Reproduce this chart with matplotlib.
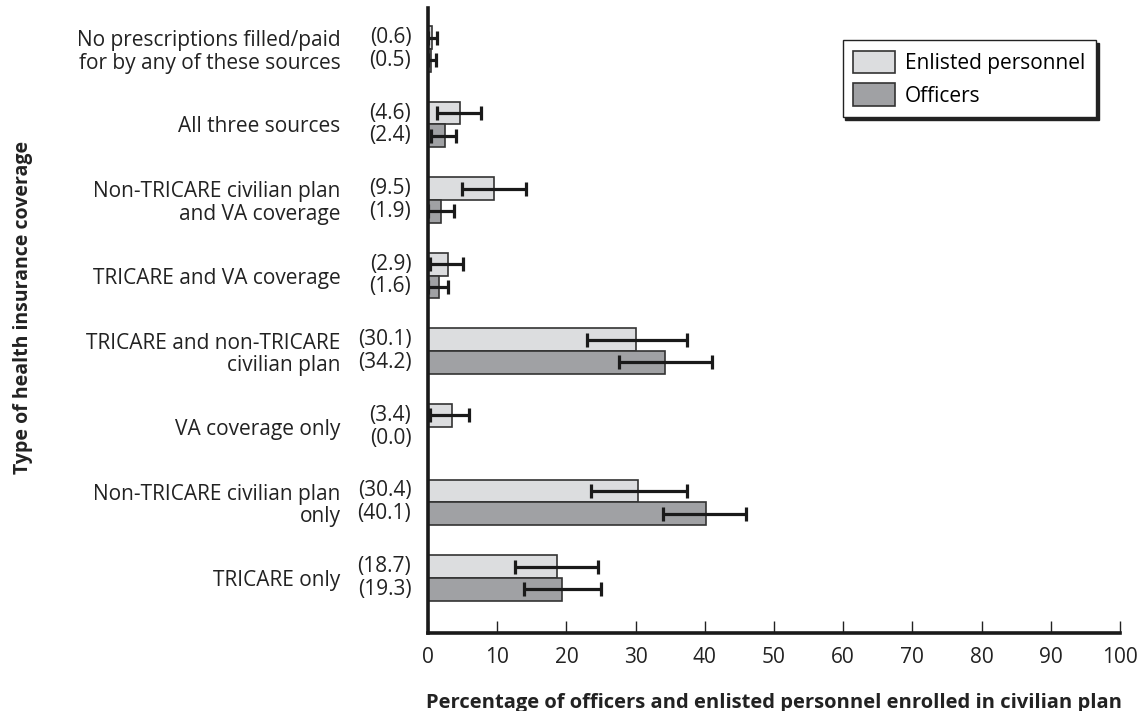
import numpy as np
import matplotlib
matplotlib.use("Agg")
from matplotlib import pyplot as plt

plt.rcParams['font.family'] = ['Open Sans', 'DejaVu Sans']

# categories, top to bottom
categories = [
    'No prescriptions filled/paid\nfor by any of these sources',
    'All three sources',
    'Non-TRICARE civilian plan\nand VA coverage',
    'TRICARE and VA coverage',
    'TRICARE and non-TRICARE\ncivilian plan',
    'VA coverage only',
    'Non-TRICARE civilian plan\nonly',
    'TRICARE only',
]
enlisted = [0.6, 4.6, 9.5, 2.9, 30.1, 3.4, 30.4, 18.7]
officers = [0.5, 2.4, 1.9, 1.6, 34.2, 0.0, 40.1, 19.3]
# confidence interval bounds
enlisted_lo = [0.0, 1.3, 4.9, 0.3, 23.0, 0.3, 23.6, 12.6]
enlisted_hi = [1.3, 7.7, 14.1, 5.1, 37.4, 5.9, 37.4, 24.6]
officers_lo = [0.0, 0.4, 0.0, 0.0, 27.6, 0.0, 34.0, 13.8]
officers_hi = [1.1, 4.0, 3.7, 2.9, 41.0, 0.0, 46.0, 25.0]

light = '#dcdddf'
dark = '#a0a1a4'
edge = '#333333'
txt = '#222222'
fs = 15

fig = plt.figure(figsize=(11.46, 7.11), dpi=100)
ax = fig.add_axes([0.3735, 0.1097, 0.6038, 0.879])

n = len(categories)
y = np.arange(n)[::-1].astype(float)
h = 0.30

en = np.array(enlisted)
of = np.array(officers)
en_err = [en - np.array(enlisted_lo), np.array(enlisted_hi) - en]
of_err = [of - np.array(officers_lo), np.array(officers_hi) - of]

ax.barh(y + h / 2, en, height=h, color=light, edgecolor=edge, linewidth=1.2,
        label='Enlisted personnel', zorder=2)
ax.barh(y - h / 2, of, height=h, color=dark, edgecolor=edge, linewidth=1.2,
        label='Officers', zorder=2)
ax.errorbar(en, y + h / 2, xerr=en_err, fmt='none', ecolor='#1a1a1a',
            elinewidth=2.3, capsize=5, capthick=2.3, zorder=3)
mask = of > 0
ax.errorbar(of[mask], (y - h / 2)[mask], xerr=[e[mask] for e in of_err], fmt='none',
            ecolor='#1a1a1a', elinewidth=2.3, capsize=5, capthick=2.3, zorder=3)

# value labels next to the axis
for yi, e, o in zip(y, enlisted, officers):
    ax.annotate('(%.1f)' % e, xy=(0, yi + h / 2), xycoords=('axes fraction', 'data'),
                xytext=(-12, 0), textcoords='offset points', ha='right', va='center',
                fontsize=fs, color=txt)
    ax.annotate('(%.1f)' % o, xy=(0, yi - h / 2), xycoords=('axes fraction', 'data'),
                xytext=(-12, 0), textcoords='offset points', ha='right', va='center',
                fontsize=fs, color=txt)

ax.set_yticks(y)
ax.set_yticklabels(categories, fontsize=fs, color=txt, linespacing=1.1)
ax.tick_params(axis='y', length=0, pad=63)

ax.set_xlim(0, 100)
ax.set_ylim(-0.73, n - 1 + 0.54)
ax.set_xticks(np.arange(0, 101, 10))
ax.tick_params(axis='x', direction='in', length=9, width=1, labelsize=fs,
               pad=10, colors=txt)

for s in ['top', 'right']:
    ax.spines[s].set_visible(False)
for s in ['left', 'bottom']:
    ax.spines[s].set_linewidth(2.6)
    ax.spines[s].set_color('#1a1a1a')

ax.set_xlabel('Percentage of officers and enlisted personnel enrolled in civilian plan',
              fontsize=14.5, fontweight='bold', labelpad=18, color=txt)
fig.text(0.02, 0.568, 'Type of health insurance coverage', rotation=90,
         ha='center', va='center', fontsize=14, fontweight='bold', color=txt)

leg = ax.legend(loc='upper right', bbox_to_anchor=(0.98, 0.965), fontsize=fs,
                frameon=True, fancybox=False, edgecolor=txt,
                shadow={'color': txt, 'alpha': 1.0},
                handlelength=2.0, handleheight=1.3, borderpad=0.5, labelspacing=0.45,
                handletextpad=0.5)
leg.get_frame().set_linewidth(1.0)

fig.savefig('out.png', dpi=100)
